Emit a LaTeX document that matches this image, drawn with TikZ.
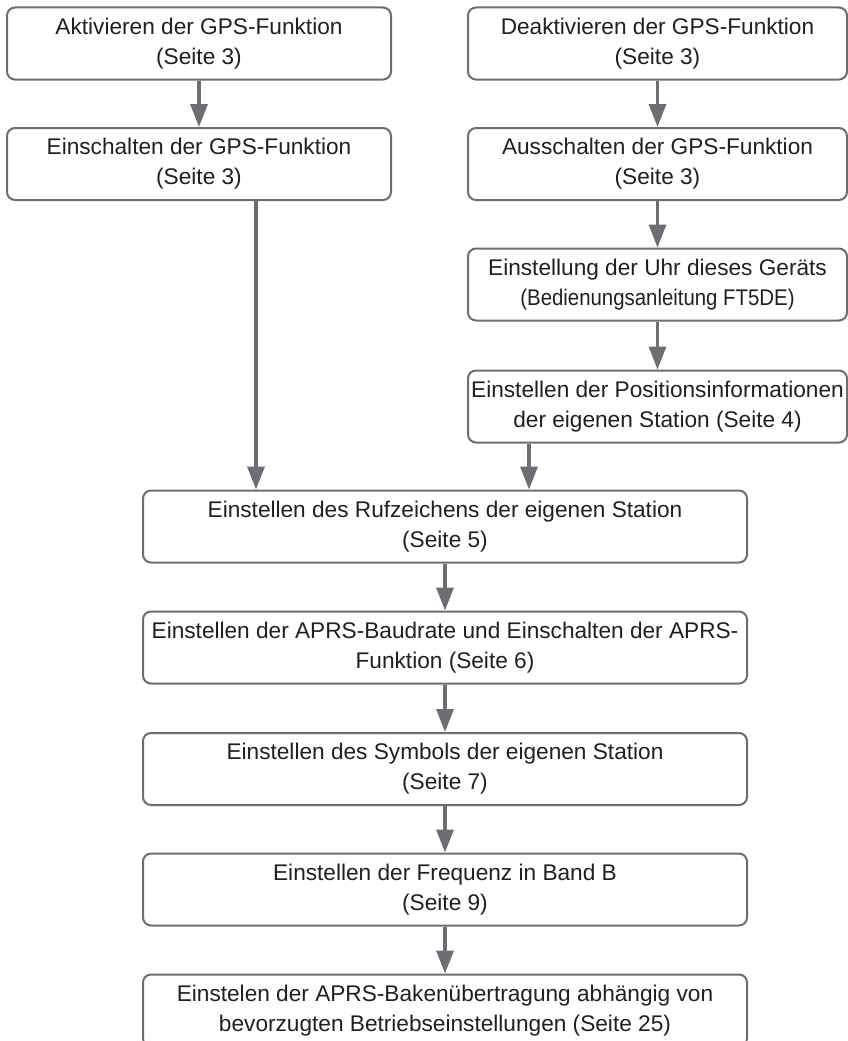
\documentclass[tikz,border=0pt]{standalone}
\usepackage{fontspec}
\setmainfont{Liberation Sans}
\usepackage{graphicx}
\usetikzlibrary{arrows.meta}
\definecolor{linegray}{HTML}{6D6E71}
\definecolor{txtcol}{HTML}{231F20}
\begin{document}
\begin{tikzpicture}[x=1pt,y=-1pt,
  box/.style={draw=linegray, line width=2pt, rounded corners=8pt, inner sep=0pt,
    align=center, text=txtcol, font=\fontsize{22.65pt}{30pt}\selectfont,
    minimum height=72pt},
  lbox/.style={box, minimum width=384pt},
  rbox/.style={box, minimum width=379pt},
  cbox/.style={box, minimum width=604pt},
  arr/.style={draw=linegray, line width=3.5pt, -{Triangle[width=17pt,length=23pt]}}]
\clip (0,0) rectangle (848,1041);
\fill[white] (0,0) rectangle (848,1041);

\node[lbox] (b1) at (199,43.5) {Aktivieren der GPS-Funktion\\(Seite 3)};
\node[lbox] (b2) at (199,164) {Einschalten der GPS-Funktion\\(Seite 3)};
\node[rbox] (b3) at (657.5,43.5) {Deaktivieren der GPS-Funktion\\(Seite 3)};
\node[rbox] (b4) at (657.5,164) {Ausschalten der GPS-Funktion\\(Seite 3)};
\node[rbox] (b5) at (657.5,284.5) {Einstellung der Uhr dieses Geräts\\\scalebox{0.9}[1]{(Bedienungsanleitung FT5DE)}};
\node[rbox] (b6) at (657.5,406.5) {Einstellen der Positionsinformationen\\der eigenen Station (Seite 4)};
\node[cbox] (b7) at (445,526.5) {Einstellen des Rufzeichens der eigenen Station\\(Seite 5)};
\node[cbox] (b8) at (445,647.5) {Einstellen der APRS-Baudrate und Einschalten der APRS-\\Funktion (Seite 6)};
\node[cbox] (b9) at (445,769) {Einstellen des Symbols der eigenen Station\\(Seite 7)};
\node[cbox] (b10) at (445,889.5) {Einstellen der Frequenz in Band B\\(Seite 9)};
\node[cbox] (b11) at (445,1010.5) {Einstelen der APRS-Bakenübertragung abhängig von\\bevorzugten Betriebseinstellungen (Seite 25)};

\coordinate (lx) at (256,0);
\coordinate (rx) at (529,0);

\draw[arr] (b1.south) -- (b2.north);
\draw[arr] (b3.south) -- (b4.north);
\draw[arr] (b4.south) -- (b5.north);
\draw[arr] (b5.south) -- (b6.north);
\draw[arr] (b2.south -| lx) -- (b7.north -| lx);
\draw[arr] (b6.south -| rx) -- (b7.north -| rx);
\draw[arr] (b7.south) -- (b8.north);
\draw[arr] (b8.south) -- (b9.north);
\draw[arr] (b9.south) -- (b10.north);
\draw[arr] (b10.south) -- (b11.north);
\end{tikzpicture}
\end{document}
